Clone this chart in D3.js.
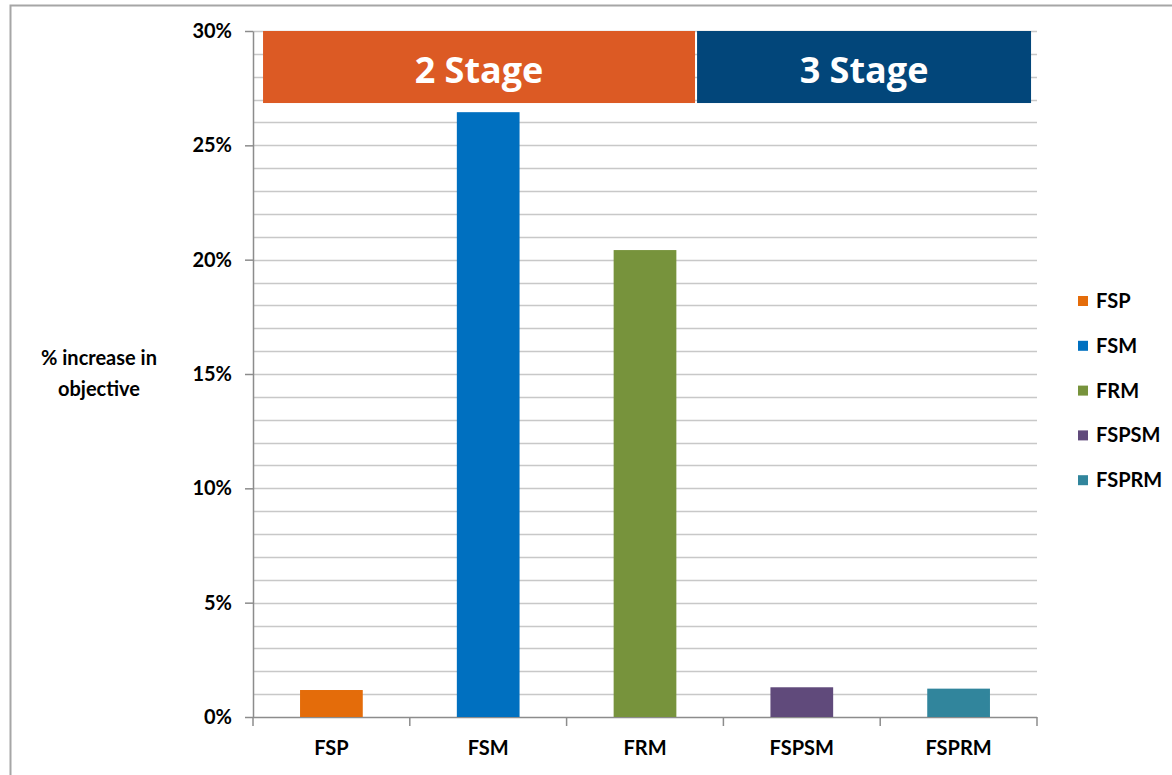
<!DOCTYPE html>
<html><head><meta charset="utf-8">
<script src="https://cdn.jsdelivr.net/npm/d3@7"></script>
<style>
body{margin:0;background:#fff;}
text{font-family:Lato,"Open Sans",sans-serif;font-weight:bold;}
</style></head>
<body><svg id="c" width="1172" height="775"></svg>
<script>
const categories = ["FSP","FSM","FRM","FSPSM","FSPRM"];
const values = [1.18, 26.45, 20.42, 1.3, 1.24];
const colors = ["#E46C0A","#0070C0","#77933C","#604A7B","#31859C"];
const yTicks = [0,5,10,15,20,25,30];
const stageLabels = ["2 Stage","3 Stage"];
const stageColors = ["#DC5A24","#02467A"];
const stageFrom = [0.064, 2.832];
const stageTo = [2.819, 4.962];
const stageBottom = 26.85;

const svg = d3.select("#c");
const L=253, R=1037, T=31, B=717;
const x = d3.scaleBand().domain(categories).range([L,R]).paddingInner(0.6).paddingOuter(0.3);
const xi = d3.scaleLinear().domain([0,5]).range([L,R]);
const y = d3.scaleLinear().domain([0,30]).range([B,T]);
const FS = 20;

// frame
svg.append("path").attr("d",`M10.5,780 V5.5 H1180`).attr("fill","none").attr("stroke","#a6a6a6").attr("stroke-width",2);

// gridlines (1%)
svg.append("g").selectAll("line").data(d3.range(1,31)).join("line")
  .attr("x1",L).attr("x2",R).attr("y1",d=>Math.round(y(d))+0.5).attr("y2",d=>Math.round(y(d))+0.5)
  .attr("stroke","#c8c8c8").attr("stroke-width",1.5);

// y axis
const ya = svg.append("g").attr("transform",`translate(${L},0)`)
  .call(d3.axisLeft(y).tickValues(yTicks).tickFormat(d=>d+"%").tickSize(8).tickSizeOuter(0));
ya.select(".domain").attr("stroke","#8c8c8c").attr("stroke-width",1.5);
ya.selectAll(".tick line").attr("stroke","#8c8c8c").attr("stroke-width",1.5);
ya.selectAll(".tick text").attr("font-size",FS).attr("fill","#000").attr("x",-21)
  .style("font-family","Lato,'Open Sans',sans-serif").style("font-weight","bold");

// x axis
svg.append("line").attr("x1",L).attr("x2",R).attr("y1",B+0.5).attr("y2",B+0.5).attr("stroke","#8c8c8c").attr("stroke-width",1.5);
svg.append("g").selectAll("line").data(d3.range(0,6)).join("line")
  .attr("x1",d=>xi(d)).attr("x2",d=>xi(d)).attr("y1",B).attr("y2",B+9)
  .attr("stroke","#8c8c8c").attr("stroke-width",1.5);
svg.append("g").selectAll("text").data(categories).join("text")
  .attr("x",d=>x(d)+x.bandwidth()/2).attr("y",755).attr("text-anchor","middle")
  .attr("font-size",FS).attr("fill","#000").text(d=>d);

// bars
svg.append("g").selectAll("rect").data(categories).join("rect")
  .attr("x",d=>x(d)).attr("width",x.bandwidth())
  .attr("y",(d,i)=>y(values[i])).attr("height",(d,i)=>B-y(values[i]))
  .attr("fill",(d,i)=>colors[i]);

// stage banners
const sg = svg.append("g");
stageLabels.forEach((s,k)=>{
  const x0 = xi(stageFrom[k]), x1 = xi(stageTo[k]);
  sg.append("rect").attr("x",x0).attr("y",T).attr("width",x1-x0).attr("height",y(stageBottom)-T).attr("fill",stageColors[k]);
  sg.append("text").attr("x",(x0+x1)/2).attr("y",83).attr("text-anchor","middle")
    .attr("font-size",36).attr("fill","#fff").style("font-family","'Open Sans',sans-serif").text(s);
});

// y axis title
const tt = svg.append("text").attr("x",99).attr("text-anchor","middle").attr("font-size",FS).attr("fill","#000");
tt.append("tspan").attr("x",99).attr("y",365).text("% increase in");
tt.append("tspan").attr("x",99).attr("y",396).text("objective");

// legend
const lg = svg.append("g").selectAll("g").data(categories).join("g")
  .attr("transform",(d,i)=>`translate(1078,${301+i*44.8})`);
lg.append("rect").attr("x",0).attr("y",-5).attr("width",10).attr("height",10).attr("fill",(d,i)=>colors[i]);
lg.append("text").attr("x",18).attr("y",7).attr("font-size",FS).attr("fill","#000").text(d=>d);
</script></body></html>
